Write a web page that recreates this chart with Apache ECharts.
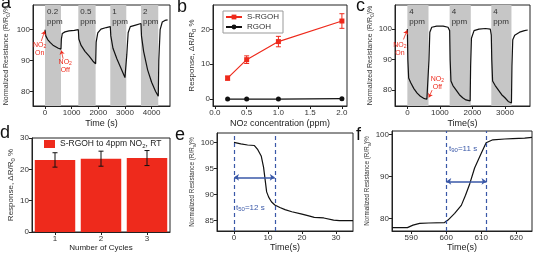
<!DOCTYPE html>
<html>
<head>
<meta charset="utf-8">
<script src="https://cdn.jsdelivr.net/npm/echarts@6/dist/echarts.min.js"></script>
<style>
html,body{margin:0;padding:0;background:#fff}
#chart{width:535px;height:253px}
</style>
</head>
<body>
<div id="chart"></div>
<script>
// a: normalized resistance vs time, 0.2 - 2 ppm
var timeA = [0, 30, 100, 200, 300, 400, 500, 600, 615, 650, 750, 900, 1100, 1250, 1270, 1350, 1500, 1650, 1800, 1900, 1920, 1980, 2100, 2300, 2450, 2470, 2550, 2700, 2850, 3000, 3050, 3070, 3120, 3200, 3400, 3600, 3620, 3700, 3850, 4000, 4150, 4250, 4270, 4320, 4400, 4500, 4600];
var resA = [100, 98, 96.8, 95.8, 95, 94.5, 94, 93.7, 97, 98.8, 99.3, 99.6, 99.8, 100, 97, 95, 93, 91.5, 89.8, 89, 96, 99, 100.2, 100.7, 101, 98, 94, 90.5, 87.5, 84.5, 84, 92, 99, 101, 101.5, 102, 98, 93, 87, 83, 80, 78.5, 90, 100, 102.5, 103, 103.2];
var bandsA = [[0, 600], [1250, 1900], [2450, 3050], [3600, 4250]];
var bandNamesA = ['0.2\nppm', '0.5\nppm', '1\nppm', '2\nppm'];
var ticksAx = [0, 1000, 2000, 3000, 4000];
var ticksAy = [80, 90, 100];

// b: response vs concentration
var concB = [0.2, 0.5, 1.0, 2.0];
var srgohB = [6.0, 11.3, 16.5, 22.4];
var srgohErrB = [0.6, 1.1, 1.5, 2.1];
var rgohB = [0, 0, 0, 0.1];
var ticksBx = [0, 0.5, 1, 1.5, 2];
var ticksBy = [0, 10, 20];

// c: three cycles at 4 ppm
var timeC = [0, 15, 40, 100, 200, 300, 400, 500, 600, 650, 665, 690, 750, 900, 1100, 1250, 1300, 1315, 1340, 1400, 1500, 1600, 1700, 1800, 1930, 1945, 1970, 2050, 2200, 2400, 2550, 2580, 2595, 2620, 2700, 2800, 2900, 3000, 3100, 3200, 3215, 3240, 3300, 3450, 3600, 3700];
var resC = [100, 90, 84, 82.5, 80.5, 79, 78, 77.3, 77, 77.2, 90, 99, 100.6, 101, 101, 100.6, 99.5, 90, 83, 81.5, 80, 78.5, 77.5, 76.8, 76.5, 88, 97, 99.5, 100, 100.2, 100, 98, 90, 83, 81.5, 80, 78.5, 77.5, 76.3, 75.8, 88, 96.5, 98, 99, 99.5, 99.7];
var bandsC = [[0, 650], [1300, 1950], [2580, 3200]];
var bandNamesC = ['4\nppm', '4\nppm', '4\nppm'];
var ticksCx = [0, 1000, 2000, 3000];
var ticksCy = [80, 90, 100];

// d: repeatability
var cyclesD = ['1', '2', '3'];
var respD = [23.0, 23.4, 23.6];
var errD = [2.3, 2.4, 2.4];

// e: response time
var timeE = [0, 2, 4, 6, 7, 8, 8.7, 9.6, 10.2, 11, 12, 13.5, 15, 17, 19.7, 22, 23.6, 26.4, 29.3, 31, 35];
var resE = [100, 99.7, 99.5, 99.4, 98.6, 97.4, 95.2, 90.5, 89.5, 88.6, 88, 87.5, 87.1, 86.7, 86.3, 85.9, 85.6, 85.5, 85.1, 85, 85];
var ticksEx = [0, 10, 20, 30];
var ticksEy = [85, 90, 95, 100];

// f: recovery time
var timeF = [584.5, 588.9, 590.5, 592.4, 595, 599.5, 600.5, 602.4, 604.3, 605.5, 606.7, 608.1, 610, 611.4, 613.3, 616.7, 619, 622.4, 624.5];
var resF = [77.8, 77.8, 78.4, 78.8, 78.9, 79, 79.6, 81.2, 83.1, 85.5, 88.2, 92, 95.5, 98, 98.7, 98.9, 99, 99.1, 99.3];
var ticksFx = [590, 600, 610, 620];
var ticksFy = [80, 90, 100];

var font = "'Liberation Sans', Arial, sans-serif";
var red = '#ee2a1c';
var blue = '#3a58a8';

function pairs(xs, ys) {
    return xs.map(function (x, i) { return [x, ys[i]]; });
}

function plain(v) { return String(v); }

function xAx(grid, min, max, ticks, name, gap, fmt) {
    return {
        type: 'value', gridIndex: grid, min: min, max: max,
        name: name, nameLocation: 'middle', nameGap: gap,
        nameTextStyle: {fontSize: 9, color: '#222', fontFamily: font, lineHeight: 9, rich: {s: {fontSize: 7, verticalAlign: 'bottom', lineHeight: 9}}},
        axisLine: {show: true, onZero: false, lineStyle: {color: '#222'}},
        axisTick: {show: true, customValues: ticks, length: 3, lineStyle: {color: '#222'}},
        axisLabel: {customValues: ticks, fontSize: 8, margin: 3, color: '#333', fontFamily: font, formatter: fmt || plain},
        splitLine: {show: false}
    };
}

function yAx(grid, min, max, ticks, name, gap, size) {
    return {
        type: 'value', gridIndex: grid, min: min, max: max,
        name: name, nameLocation: 'middle', nameGap: gap,
        nameTextStyle: {fontSize: size, color: '#333', fontFamily: font, lineHeight: size + 2, rich: {s: {fontSize: size - 2, verticalAlign: 'bottom', lineHeight: size + 2}}},
        axisLine: {show: true, onZero: false, lineStyle: {color: '#222'}},
        axisTick: {show: true, customValues: ticks, length: 3, lineStyle: {color: '#222'}},
        axisLabel: {customValues: ticks, fontSize: 8, margin: 3, color: '#333', fontFamily: font, formatter: plain},
        splitLine: {show: false}
    };
}

function bands(list, names) {
    return list.map(function (b, i) {
        return [{xAxis: b[0], name: names[i]}, {xAxis: b[1]}];
    });
}

function errBar(params, api) {
    var x = api.value(0);
    var p1 = api.coord([x, api.value(1)]);
    var p2 = api.coord([x, api.value(2)]);
    var w = 2.5;
    var st = {stroke: api.visual('color'), lineWidth: 1};
    return {type: 'group', children: [
        {type: 'line', shape: {x1: p1[0], y1: p1[1], x2: p2[0], y2: p2[1]}, style: st},
        {type: 'line', shape: {x1: p1[0] - w, y1: p1[1], x2: p1[0] + w, y2: p1[1]}, style: st},
        {type: 'line', shape: {x1: p2[0] - w, y1: p2[1], x2: p2[0] + w, y2: p2[1]}, style: st}
    ]};
}

function note(coord, text, color, size, pos) {
    return {
        coord: coord, symbol: 'circle', symbolSize: 0,
        label: {show: true, formatter: text, position: pos || 'inside', color: color, fontSize: size, lineHeight: size + 1, fontFamily: font, distance: 0,
            rich: {s: {fontSize: size - 2, verticalAlign: 'bottom', lineHeight: size + 1, color: color}}}
    };
}

function arrow(from, to) {
    return [{coord: from, symbol: 'none'}, {coord: to, symbol: 'arrow'}];
}

var bandStyle = {
    silent: true,
    itemStyle: {color: '#c6c6c6'},
    label: {show: true, position: 'insideTopLeft', distance: 2, color: '#333', fontSize: 8, lineHeight: 10, fontFamily: font}
};

var gridBase = {show: true, borderColor: '#222', borderWidth: 1, backgroundColor: 'transparent'};
var yName = 'Normalized Resistance (R/R{s|0})%';
var respName = 'Response, \u0394R/R{s|0} %';

var chart = echarts.init(document.getElementById('chart'));
var option = {
    animation: false,
    backgroundColor: '#fff',
    textStyle: {fontFamily: font},
    grid: [
        Object.assign({left: 33, top: 5, width: 137, height: 101}, gridBase),
        Object.assign({left: 213, top: 5, width: 134, height: 101}, gridBase),
        Object.assign({left: 395, top: 5, width: 135, height: 101}, gridBase),
        Object.assign({left: 32, top: 138, width: 138, height: 98}, gridBase),
        Object.assign({left: 217, top: 133, width: 136, height: 100}, gridBase),
        Object.assign({left: 392, top: 131, width: 140, height: 102}, gridBase)
    ],
    xAxis: [
        xAx(0, -450, 4690, ticksAx, 'Time (s)', 13),
        xAx(1, -0.03, 2.08, ticksBx, 'NO{s|2} concentration (ppm)', 13, function (v) { return v.toFixed(1); }),
        xAx(2, -380, 3770, ticksCx, 'Time(s)', 13),
        {
            type: 'category', gridIndex: 3, data: cyclesD,
            name: 'Number of Cycles', nameLocation: 'middle', nameGap: 12,
            nameTextStyle: {fontSize: 8, color: '#222', fontFamily: font},
            axisLine: {show: true, lineStyle: {color: '#222'}},
            axisTick: {show: true, alignWithLabel: true, length: 3, lineStyle: {color: '#222'}},
            axisLabel: {fontSize: 8, margin: 3, color: '#333', fontFamily: font}
        },
        xAx(4, -5, 35, ticksEx, 'Time(s)', 12),
        xAx(5, 584.5, 624.5, ticksFx, 'Time(s)', 12)
    ],
    yAxis: [
        yAx(0, 75.3, 108, ticksAy, yName, 22, 7),
        yAx(1, -2, 27, ticksBy, respName, 15, 8),
        yAx(2, 74.8, 107.9, ticksCy, yName, 18, 7),
        Object.assign(yAx(3, 0, 30, [0, 10, 20, 30], respName, 13, 8), {interval: 10}),
        yAx(4, 83, 101.8, ticksEy, yName, 16, 6.3),
        yAx(5, 77, 100.8, ticksFy, yName, 16, 6.3)
    ],
    legend: [
        {
            data: ['S-RGOH', 'RGOH'], orient: 'vertical', left: 223, top: 11,
            itemWidth: 16, itemHeight: 6, itemGap: 2, padding: [2, 4, 2, 2],
            borderColor: '#999', borderWidth: 1,
            textStyle: {fontSize: 8, color: '#333', fontFamily: font}
        },
        {
            data: ['S-RGOH to 4ppm NO2, RT'], left: 44, top: 139,
            icon: 'rect', itemWidth: 11, itemHeight: 8, itemGap: 2, padding: 0,
            formatter: function () { return 'S-RGOH to 4ppm NO{s|2}, RT'; },
            textStyle: {fontSize: 8.5, color: '#222', fontFamily: font, lineHeight: 10, rich: {s: {fontSize: 6, verticalAlign: 'bottom', lineHeight: 10}}}
        }
    ],
    graphic: [
        {type: 'text', left: 1, top: -6, style: {text: 'a', fontSize: 18, fontFamily: font, fill: '#111'}},
        {type: 'text', left: 177, top: -2, style: {text: 'b', fontSize: 18, fontFamily: font, fill: '#111'}},
        {type: 'text', left: 356, top: -3, style: {text: 'c', fontSize: 18, fontFamily: font, fill: '#111'}},
        {type: 'text', left: 0, top: 124, style: {text: 'd', fontSize: 18, fontFamily: font, fill: '#111'}},
        {type: 'text', left: 175, top: 126, style: {text: 'e', fontSize: 18, fontFamily: font, fill: '#111'}},
        {type: 'text', left: 356, top: 126, style: {text: 'f', fontSize: 18, fontFamily: font, fill: '#111'}}
    ],
    series: [
        {
            type: 'line', xAxisIndex: 0, yAxisIndex: 0, data: pairs(timeA, resA),
            symbol: 'none', lineStyle: {color: '#111', width: 1.2}, z: 3,
            markArea: Object.assign({data: bands(bandsA, bandNamesA)}, bandStyle),
            markPoint: {silent: true, data: [
                note([-200, 93.6], 'NO{s|2}\nOn', red, 7),
                note([760, 88.2], 'NO{s|2}\nOff', red, 7)
            ]},
            markLine: {silent: true, symbolSize: 4, label: {show: false},
                lineStyle: {color: red, type: 'solid', width: 0.8},
                data: [arrow([-140, 96.3], [-8, 99.6]), arrow([680, 90.6], [610, 93.3])]}
        },
        {
            type: 'line', name: 'S-RGOH', xAxisIndex: 1, yAxisIndex: 1, data: pairs(concB, srgohB),
            symbol: 'rect', symbolSize: 5, color: red, lineStyle: {color: red, width: 1.2}, z: 4
        },
        {
            type: 'custom', xAxisIndex: 1, yAxisIndex: 1, renderItem: errBar,
            itemStyle: {color: red}, encode: {x: 0, y: [1, 2]}, z: 5,
            data: concB.map(function (c, i) { return [c, srgohB[i] - srgohErrB[i], srgohB[i] + srgohErrB[i]]; })
        },
        {
            type: 'line', name: 'RGOH', xAxisIndex: 1, yAxisIndex: 1, data: pairs(concB, rgohB),
            symbol: 'circle', symbolSize: 5, color: '#111', lineStyle: {color: '#111', width: 1.2}, z: 4
        },
        {
            type: 'line', xAxisIndex: 2, yAxisIndex: 2, data: pairs(timeC, resC),
            symbol: 'none', lineStyle: {color: '#111', width: 1.2}, z: 3,
            markArea: Object.assign({data: bands(bandsC, bandNamesC)}, bandStyle),
            markPoint: {silent: true, data: [
                note([-230, 93.6], 'NO{s|2}\nOn', red, 7),
                note([920, 82.4], 'NO{s|2}\nOff', red, 7)
            ]},
            markLine: {silent: true, symbolSize: 4, label: {show: false},
                lineStyle: {color: red, type: 'solid', width: 0.8},
                data: [arrow([-120, 96.6], [-8, 99.6]), arrow([760, 80], [660, 77.6])]}
        },
        {
            type: 'bar', name: 'S-RGOH to 4ppm NO2, RT', xAxisIndex: 3, yAxisIndex: 3, data: respD,
            barCategoryGap: '12%', itemStyle: {color: red}
        },
        {
            type: 'custom', xAxisIndex: 3, yAxisIndex: 3, renderItem: errBar,
            itemStyle: {color: '#111'}, encode: {x: 0, y: [1, 2]}, z: 5,
            data: cyclesD.map(function (c, i) { return [i, respD[i] - errD[i], respD[i] + errD[i]]; })
        },
        {
            type: 'line', xAxisIndex: 4, yAxisIndex: 4, data: pairs(timeE, resE),
            symbol: 'none', lineStyle: {color: '#111', width: 1.2}, z: 3,
            markPoint: {silent: true, data: [note([0.6, 87.4], 't{s|50}=12 s', blue, 8, 'right')]},
            markLine: {silent: true, symbol: 'none', symbolSize: 5, label: {show: false},
                lineStyle: {color: blue, type: [4, 3], width: 1.2},
                data: [{xAxis: 0}, {xAxis: 12},
                    [{coord: [0, 93.3], symbol: 'arrow', lineStyle: {type: 'solid', width: 1.6}}, {coord: [12, 93.3], symbol: 'arrow'}]]}
        },
        {
            type: 'line', xAxisIndex: 5, yAxisIndex: 5, data: pairs(timeF, resF),
            symbol: 'none', lineStyle: {color: '#111', width: 1.2}, z: 3,
            markPoint: {silent: true, data: [note([600.8, 96.6], 't{s|90}=11 s', blue, 8, 'right')]},
            markLine: {silent: true, symbol: 'none', symbolSize: 5, label: {show: false},
                lineStyle: {color: blue, type: [4, 3], width: 1.2},
                data: [{xAxis: 600}, {xAxis: 611.5},
                    [{coord: [600, 88.8], symbol: 'arrow', lineStyle: {type: 'solid', width: 1.6}}, {coord: [611.5, 88.8], symbol: 'arrow'}]]}
        }
    ]
};
chart.setOption(option);
</script>
</body>
</html>
